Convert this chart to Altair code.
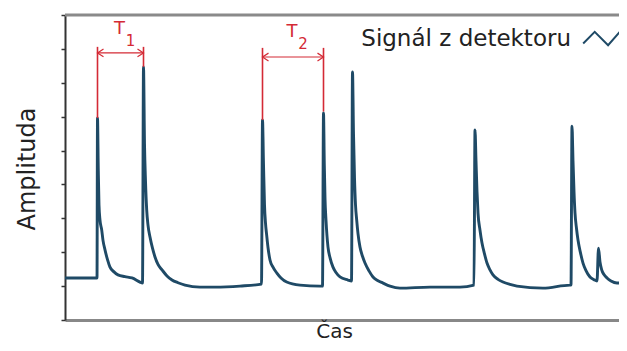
import altair as alt
import pandas as pd

# --- signal (time units, amplitude units) ---
sig_t = [0, 32, 32.5, 33.3, 34, 35, 36.7, 38, 40, 42.5, 45, 49, 53, 60, 67, 75, 77.5,
         78.5, 79.5, 80.5, 81.7, 83, 85, 87.5, 90, 93, 97, 102, 107, 113, 120, 135, 150, 175, 196.5,
         197.5, 198.5, 199.5, 200.5, 201.7, 203, 205, 208, 211.7, 216, 221.7, 235, 255, 257.5,
         258.5, 259.3, 260, 261, 263, 265, 268, 271, 275, 283, 286.5,
         287.5, 288.5, 289.5, 290.5, 291.7, 293, 295, 297.5, 300, 304, 308, 313, 318, 325, 335, 365, 395, 409,
         410, 411, 412, 413, 415, 417, 419.5, 422, 425, 428, 433, 438, 445, 452, 478, 505, 506,
         507, 508, 509, 510, 511.5, 513, 515.5, 518, 521, 525, 529, 532,
         533.5, 535, 536.7, 539, 542, 546, 552, 554]
sig_v = [1.24, 1.24, 5.96, 4.40, 3.39, 2.95, 2.66, 2.35, 2.07, 1.78, 1.56, 1.42, 1.33, 1.28, 1.24, 1.12, 1.09,
         7.47, 5.20, 4.10, 3.25, 2.80, 2.45, 2.12, 1.86, 1.64, 1.48, 1.30, 1.18, 1.10, 1.03, 0.97, 0.97, 1.00, 1.06,
         5.90, 4.60, 3.40, 2.86, 2.50, 2.14, 1.77, 1.56, 1.39, 1.24, 1.12, 1.03, 1.00, 1.00,
         6.11, 4.60, 3.60, 2.95, 2.15, 1.84, 1.56, 1.40, 1.27, 1.18, 1.15,
         7.32, 5.50, 4.20, 3.40, 2.95, 2.55, 2.15, 1.88, 1.68, 1.45, 1.27, 1.16, 1.09, 1.00, 0.94, 0.97, 0.97, 1.03,
         5.61, 4.70, 3.80, 3.16, 2.65, 2.27, 1.95, 1.68, 1.48, 1.33, 1.20, 1.12, 1.05, 1.00, 0.94, 1.03, 1.03,
         5.72, 4.70, 3.80, 3.16, 2.70, 2.36, 1.98, 1.68, 1.46, 1.27, 1.19, 1.15,
         2.12, 1.71, 1.48, 1.34, 1.24, 1.15, 1.09, 1.09]
series_name = "Signál z detektoru"

# --- period annotations ---
per_letter = ["T", "T"]
per_index = ["1", "2"]
per_start = [32.5, 197.5]
per_end = [78.5, 258.5]
per_start_top = [5.96, 5.90]
per_end_top = [7.47, 6.15]
per_line_top = [8.06, 8.03]
per_arrow_v = [7.88, 7.76]
per_label_v = [8.60, 8.51]
y_ticks = [0, 1, 2, 3, 4, 5, 6, 7, 8, 9]

X_MAX = 554
Y_MAX = 9
RED = "#d42a35"
BLUE = "#1f4a66"
FONT = "DejaVu Sans"

sig = pd.DataFrame({"t": sig_t, "v": sig_v, "series": series_name})
per = pd.DataFrame({
    "letter": per_letter, "index": per_index, "t0": per_start, "t1": per_end,
    "top0": per_start_top, "top1": per_end_top, "ltop": per_line_top,
    "av": per_arrow_v, "lv": per_label_v,
})
per["tm"] = (per["t0"] + per["t1"]) / 2

xs = alt.Scale(domain=[0, X_MAX], nice=False)
ys = alt.Scale(domain=[0, Y_MAX], nice=False)

axis_x = alt.Axis(
    labels=False, ticks=False, grid=False, domainColor="#888888",
    domainWidth=3, title="Čas", titleFont=FONT, titleFontSize=20,
    titleFontWeight="normal", titleColor="#222222", titleX=269, titleY=17,
    titleBaseline="alphabetic")
axis_y = alt.Axis(
    values=y_ticks, tickCount=10, labels=False, tickSize=4, tickWidth=1.5,
    tickColor="#333333", domainColor="#333333", domainWidth=2, grid=False,
    title="Amplituda", titleFont=FONT, titleFontSize=24,
    titleFontWeight="normal", titleColor="#222222", titleX=-38,
    titleY=153.5, titleBaseline="middle", titleAlign="center")


def X(f):
    return alt.X(f, scale=xs, axis=axis_x)


def Y(f):
    return alt.Y(f, scale=ys, axis=axis_y)


line = alt.Chart(sig).mark_line(strokeWidth=2.9, clip=True, interpolate="monotone").encode(
    x=X("t:Q"),
    y=Y("v:Q"),
    color=alt.Color("series:N", scale=alt.Scale(range=[BLUE]), legend=alt.Legend(
        title=None, orient="none", legendX=517, legendY=4, padding=0,
        symbolType="M-1,0.27L-0.37,-0.36L0.36,0.37L1,-0.36", symbolSize=1340,
        symbolStrokeWidth=2, symbolFillColor="transparent",
        labelFont=FONT, labelFontSize=23, labelColor="#222222",
        labelAlign="right", labelOffset={"expr": "-50"}, labelLimit=400)),
)

top_rule = alt.Chart(pd.DataFrame({"a": [0], "b": [X_MAX], "y": [Y_MAX]})).mark_rule(
    color="#8a8a8a", strokeWidth=3).encode(x=X("a:Q"), x2="b:Q", y=Y("y:Q"))

vl0 = alt.Chart(per).mark_rule(color=RED, strokeWidth=1.6).encode(
    x=X("t0:Q"), y=Y("top0:Q"), y2="ltop:Q")
vl1 = alt.Chart(per).mark_rule(color=RED, strokeWidth=1.6).encode(
    x=X("t1:Q"), y=Y("top1:Q"), y2="ltop:Q")
shaft = alt.Chart(per).mark_rule(color=RED, strokeWidth=1.2).encode(
    x=X("t0:Q"), x2="t1:Q", y=Y("av:Q"))
head_l = alt.Chart(per).mark_point(
    shape="M2,-1.3L0,0L2,1.3", size=36, filled=False, color=RED,
    strokeWidth=1.2, opacity=1).encode(x=X("t0:Q"), y=Y("av:Q"))
head_r = alt.Chart(per).mark_point(
    shape="M-2,-1.3L0,0L-2,1.3", size=36, filled=False, color=RED,
    strokeWidth=1.2, opacity=1).encode(x=X("t1:Q"), y=Y("av:Q"))
lab_t = alt.Chart(per).mark_text(
    color=RED, font=FONT, fontSize=18, baseline="middle", align="center", dx=-1).encode(
    x=X("tm:Q"), y=Y("lv:Q"), text="letter:N")
lab_i = alt.Chart(per).mark_text(
    color=RED, font=FONT, fontSize=15, baseline="middle", align="center", dx=10, dy=12).encode(
    x=X("tm:Q"), y=Y("lv:Q"), text="index:N")

chart = alt.layer(top_rule, line, vl0, vl1, shaft, head_l, head_r, lab_t, lab_i).properties(
    width=X_MAX, height=305,
    autosize=alt.AutoSizeParams(type="none"),
    padding={"left": 57, "top": 7, "right": 0, "bottom": 23},
).configure_view(stroke=None).configure(background="white")

chart.save("out.html", embed_options={"renderer": "svg", "actions": False})
